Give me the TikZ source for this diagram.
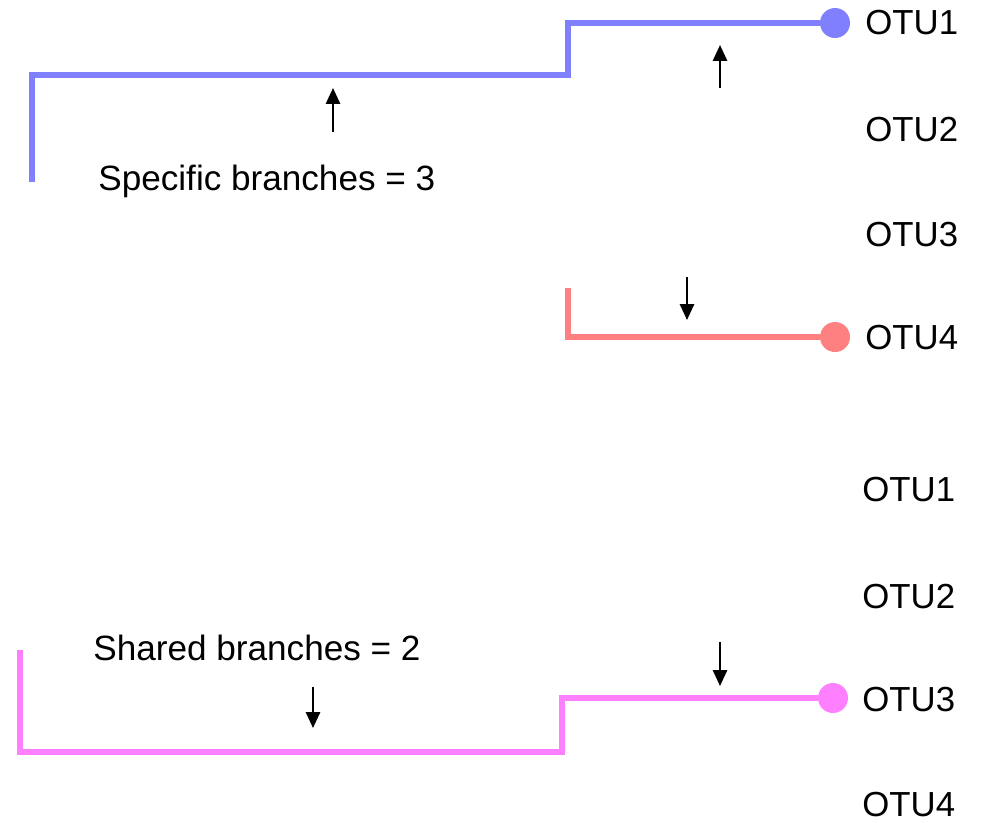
\documentclass[tikz,border=0pt]{standalone}
\usepackage{fontspec}
\setmainfont{Liberation Sans}
\usetikzlibrary{arrows.meta}

\definecolor{blueline}{HTML}{8080FF}
\definecolor{redline}{HTML}{FF8080}
\definecolor{pinkline}{HTML}{FF80FF}

\tikzset{
  branch/.style={line width=3.2pt},
  tip/.style={circle, fill=#1, inner sep=0pt, minimum size=0.6cm},
  otu/.style={anchor=west, inner sep=0pt, font=\fontsize{19.8}{22}\selectfont},
  count/.style={anchor=base west, inner sep=0pt, font=\fontsize{20}{22}\selectfont},
  mark arrow/.style={line width=1.3pt, -{Triangle[width=8pt, length=9pt]}}
}

\begin{document}
\begin{tikzpicture}[x=0.02cm, y=-0.02cm]
  \useasboundingbox (0,0) rectangle (982,822) ;

  % specific branches
  \node[otu] (t1) at (865,23) {OTU1} ;
  \node[otu] (t2) at (865,130) {OTU2} ;
  \node[otu] (t3) at (865,235) {OTU3} ;
  \node[otu] (t4) at (865,338) {OTU4} ;
  \node[tip=blueline] (d1) at (835,23) {} ;
  \node[tip=redline] (d4) at (835,337) {} ;
  \coordinate (r1) at (32,182) ;
  \coordinate (n1) at (568,75) ;
  \coordinate (r4) at (568,288) ;
  \draw[branch, blueline] (r1) |- (n1) |- (d1) ;
  \draw[branch, redline] (r4) |- (d4) ;
  \node[count] (spec) at (98,190) {Specific branches = 3} ;

  \coordinate (a1) at (333,132) ; \coordinate (b1) at (333,88) ;
  \coordinate (a2) at (720,88) ; \coordinate (b2) at (720,45) ;
  \coordinate (a3) at (687,277) ; \coordinate (b3) at (687,320) ;
  \draw[mark arrow] (a1) -- (b1) ;
  \draw[mark arrow] (a2) -- (b2) ;
  \draw[mark arrow] (a3) -- (b3) ;

  % shared branches
  \node[otu] (s1) at (862,490) {OTU1} ;
  \node[otu] (s2) at (862,597) {OTU2} ;
  \node[otu] (s3) at (862,700) {OTU3} ;
  \node[otu] (s4) at (862,805) {OTU4} ;
  \node[tip=pinkline] (d3) at (833,698) {} ;
  \coordinate (r3) at (20,650) ;
  \coordinate (n3) at (562,752) ;
  \draw[branch, pinkline] (r3) |- (n3) |- (d3) ;
  \node[count] (shar) at (93,660) {Shared branches = 2} ;

  \coordinate (a4) at (313,687) ; \coordinate (b4) at (313,728) ;
  \coordinate (a5) at (720,642) ; \coordinate (b5) at (720,686) ;
  \draw[mark arrow] (a4) -- (b4) ;
  \draw[mark arrow] (a5) -- (b5) ;
\end{tikzpicture}
\end{document}
